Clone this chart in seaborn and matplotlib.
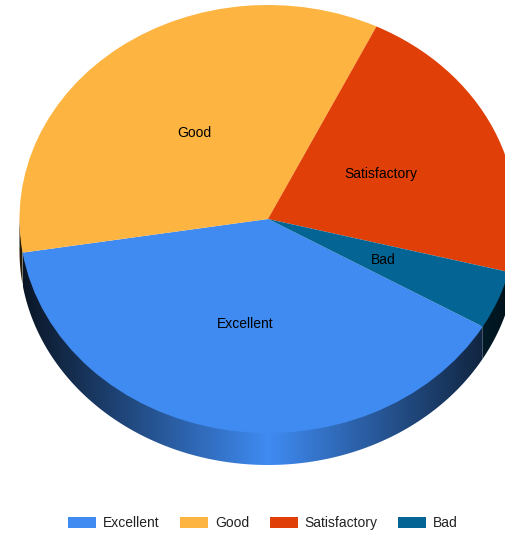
import numpy as np
import seaborn as sns
import matplotlib.pyplot as plt
from matplotlib.colors import LinearSegmentedColormap
from matplotlib.patches import Patch

categories = ["Excellent", "Good", "Satisfactory", "Bad"]
values = [39.1, 34.7, 21.8, 4.4]
colors = ["#3F8BF2", "#FDB441", "#E04008", "#046594"]

sns.set_theme(style="white")
plt.rcParams['font.family'] = ['Liberation Sans', 'DejaVu Sans']

W, H = 505, 533
cx, cy, rx, ry = 268, 219, 248.5, 214
depth = 32 / ry
start = -30.2

fig = plt.figure(figsize=(W / 100, H / 100), dpi=100)
ax = fig.add_axes([0, 0, 1, 1])

# top face
wedges, texts = ax.pie(values, labels=categories, colors=sns.color_palette(colors),
                       startangle=start, counterclock=False, labeldistance=0.5,
                       textprops={'fontsize': 10, 'color': 'black'}, wedgeprops={'linewidth': 0, 'zorder': 3})
for t in texts:
    t.set_ha('center')
    t.set_va('center')
    t.set_zorder(5)

# side wall, only the part of each slice on the lower half shows
a0 = start
for val, col in zip(values, colors):
    a1 = a0 - val * 3.6
    cmap = LinearSegmentedColormap.from_list("wall", ["black", col])
    for shift in (0, 360):
        l, h = max(a1 + shift, -180), min(a0 + shift, 0)
        if h <= l:
            continue
        th = np.radians(np.linspace(l, h, 200))
        x = np.cos(th)
        y = np.sin(th)
        # horizontal gradient clipped to the wall shape
        grad_x = np.linspace(x.min(), x.max(), 300)
        img = (1 - 0.85 * np.abs(grad_x))[None, :]
        im = ax.imshow(img, cmap=cmap, vmin=0, vmax=1, aspect='auto', zorder=1,
                       extent=(x.min(), x.max(), (y - depth).min(), y.max() + 0.02))
        shape = ax.fill_between(x, y - depth, y + 0.02, facecolor='none', edgecolor='none')
        im.set_clip_path(shape.get_paths()[0], transform=ax.transData)
    a0 = a1

ax.set_aspect('auto')
ax.set_xlim(-cx / rx, (W - cx) / rx)
ax.set_ylim((cy - H) / ry, cy / ry)
ax.axis('off')

handles = [Patch(facecolor=c, edgecolor='none', label=n) for n, c in zip(categories, colors)]
fig.legend(handles=handles, loc='center', bbox_to_anchor=(263 / W, 1 - 523 / H), ncol=4, frameon=False,
           fontsize=10, handlelength=2.0, handleheight=0.86, handletextpad=0.5, columnspacing=1.5,
           labelcolor='#222222')

fig.savefig("out.png", dpi=100)
